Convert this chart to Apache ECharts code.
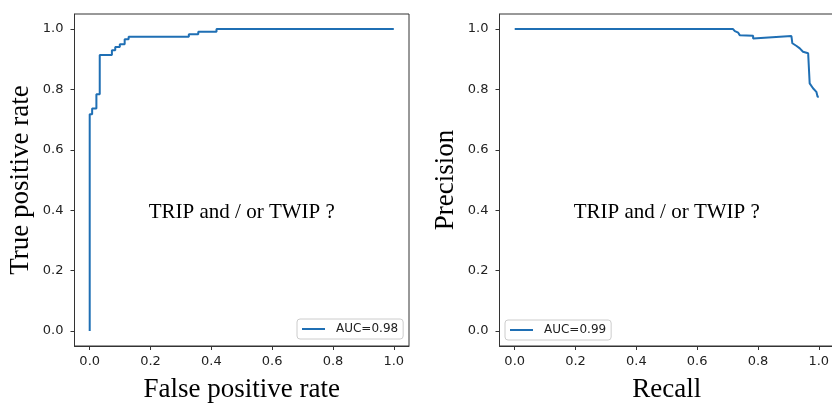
<!DOCTYPE html>
<html>
<head>
<meta charset="utf-8">
<script src="https://cdn.jsdelivr.net/npm/echarts@6/dist/echarts.min.js"></script>
<style>
  html, body { margin: 0; padding: 0; background: #fff; }
  #chart { width: 832px; height: 403px; }
</style>
</head>
<body>
<div id="chart"></div>
<script>
// ROC curve (corner points, as roc_curve returns them)
const rocFpr = [0, 0, 0.008, 0.008, 0.022, 0.022, 0.033, 0.033, 0.073, 0.073, 0.084, 0.084,
  0.099, 0.099, 0.115, 0.115, 0.128, 0.128, 0.326, 0.326, 0.357, 0.357, 0.417, 0.417, 1.0]
const rocTpr = [0, 0.718, 0.718, 0.737, 0.737, 0.784, 0.784, 0.914, 0.914, 0.930, 0.930, 0.941,
  0.941, 0.950, 0.950, 0.966, 0.966, 0.975, 0.975, 0.983, 0.983, 0.991, 0.991, 1.0, 1.0]

// precision-recall curve
const prRecall = [0, 0.718, 0.724, 0.735, 0.740, 0.784, 0.784, 0.910, 0.913, 0.927, 0.9375,
  0.948, 0.965, 0.970, 0.981, 0.992, 0.996, 1.0]
const prPrecision = [1.0, 1.0, 0.993, 0.988, 0.980, 0.978, 0.969, 0.977, 0.953, 0.944, 0.936,
  0.925, 0.920, 0.820, 0.804, 0.792, 0.776, 0.776]

const tickValues = [0, 0.2, 0.4, 0.6, 0.8, 1.0]
const rocLabel = 'AUC=0.98'
const prLabel = 'AUC=0.99'
const noteText = 'TRIP and / or TWIP ?'

const lineColor = '#1f6fb4'
const frameColor = '#333'
const serif = 'Liberation Serif'
const sans = 'DejaVu Sans'

const chart = echarts.init(document.getElementById('chart'))

const makeX = (gridIndex, name) => ({
  type: 'value',
  gridIndex,
  min: -0.05,
  max: 1.05,
  name,
  nameLocation: 'middle',
  nameGap: 30,
  nameTextStyle: { fontFamily: serif, fontSize: 27, color: '#000' },
  axisLine: { show: true, onZero: false, lineStyle: { color: frameColor, width: 1 } },
  axisTick: { show: true, length: 4, customValues: tickValues, lineStyle: { color: frameColor } },
  axisLabel: {
    customValues: tickValues,
    margin: 9,
    fontFamily: sans,
    fontSize: 13,
    color: '#222',
    formatter: v => v.toFixed(1)
  },
  splitLine: { show: false }
})

const makeY = (gridIndex, name) => ({
  type: 'value',
  gridIndex,
  min: -0.05,
  max: 1.05,
  name,
  nameLocation: 'middle',
  nameGap: 40,
  nameTextStyle: { fontFamily: serif, fontSize: 27, color: '#000' },
  axisLine: { show: true, onZero: false, lineStyle: { color: frameColor, width: 1 } },
  axisTick: { show: true, length: 4, customValues: tickValues, lineStyle: { color: frameColor } },
  axisLabel: {
    customValues: tickValues,
    margin: 11,
    fontFamily: sans,
    fontSize: 13,
    color: '#222',
    formatter: v => v.toFixed(1)
  },
  splitLine: { show: false }
})

const makeLegend = (name, left, top) => ({
  data: [name],
  left,
  top,
  orient: 'horizontal',
  backgroundColor: '#fff',
  borderColor: '#ccc',
  borderWidth: 1,
  borderRadius: 3,
  padding: [4, 5],
  icon: 'rect',
  itemWidth: 23,
  itemHeight: 2,
  selectedMode: false,
  textStyle: { fontFamily: sans, fontSize: 12, color: '#222', padding: [0, 0, 0, 6] }
})

const note = {
  symbol: 'circle',
  symbolSize: 0,
  silent: true,
  label: {
    show: true,
    position: 'inside',
    formatter: noteText,
    fontFamily: serif,
    fontSize: 21,
    color: '#000'
  },
  data: [{ coord: [0.5, 0.392] }]
}

const gridBase = {
  top: 14,
  width: 334.5,
  height: 332,
  show: true,
  borderColor: frameColor,
  borderWidth: 1,
  backgroundColor: 'transparent',
  containLabel: false,
  outerBoundsMode: 'none'
}

chart.setOption({
  animation: false,
  grid: [
    Object.assign({ left: 74.5 }, gridBase),
    Object.assign({ left: 499.5 }, gridBase)
  ],
  xAxis: [makeX(0, 'False positive rate'), makeX(1, 'Recall')],
  yAxis: [makeY(0, 'True positive rate'), makeY(1, 'Precision')],
  legend: [makeLegend(rocLabel, 297, 319), makeLegend(prLabel, 505, 320)],
  series: [
    {
      name: rocLabel,
      type: 'line',
      xAxisIndex: 0,
      yAxisIndex: 0,
      data: rocFpr.map((x, i) => [x, rocTpr[i]]),
      showSymbol: false,
      lineStyle: { color: lineColor, width: 2 },
      itemStyle: { color: lineColor },
      markPoint: note
    },
    {
      name: prLabel,
      type: 'line',
      xAxisIndex: 1,
      yAxisIndex: 1,
      data: prRecall.map((x, i) => [x, prPrecision[i]]),
      showSymbol: false,
      lineStyle: { color: lineColor, width: 2 },
      itemStyle: { color: lineColor },
      markPoint: note
    }
  ]
})
</script>
</body>
</html>
